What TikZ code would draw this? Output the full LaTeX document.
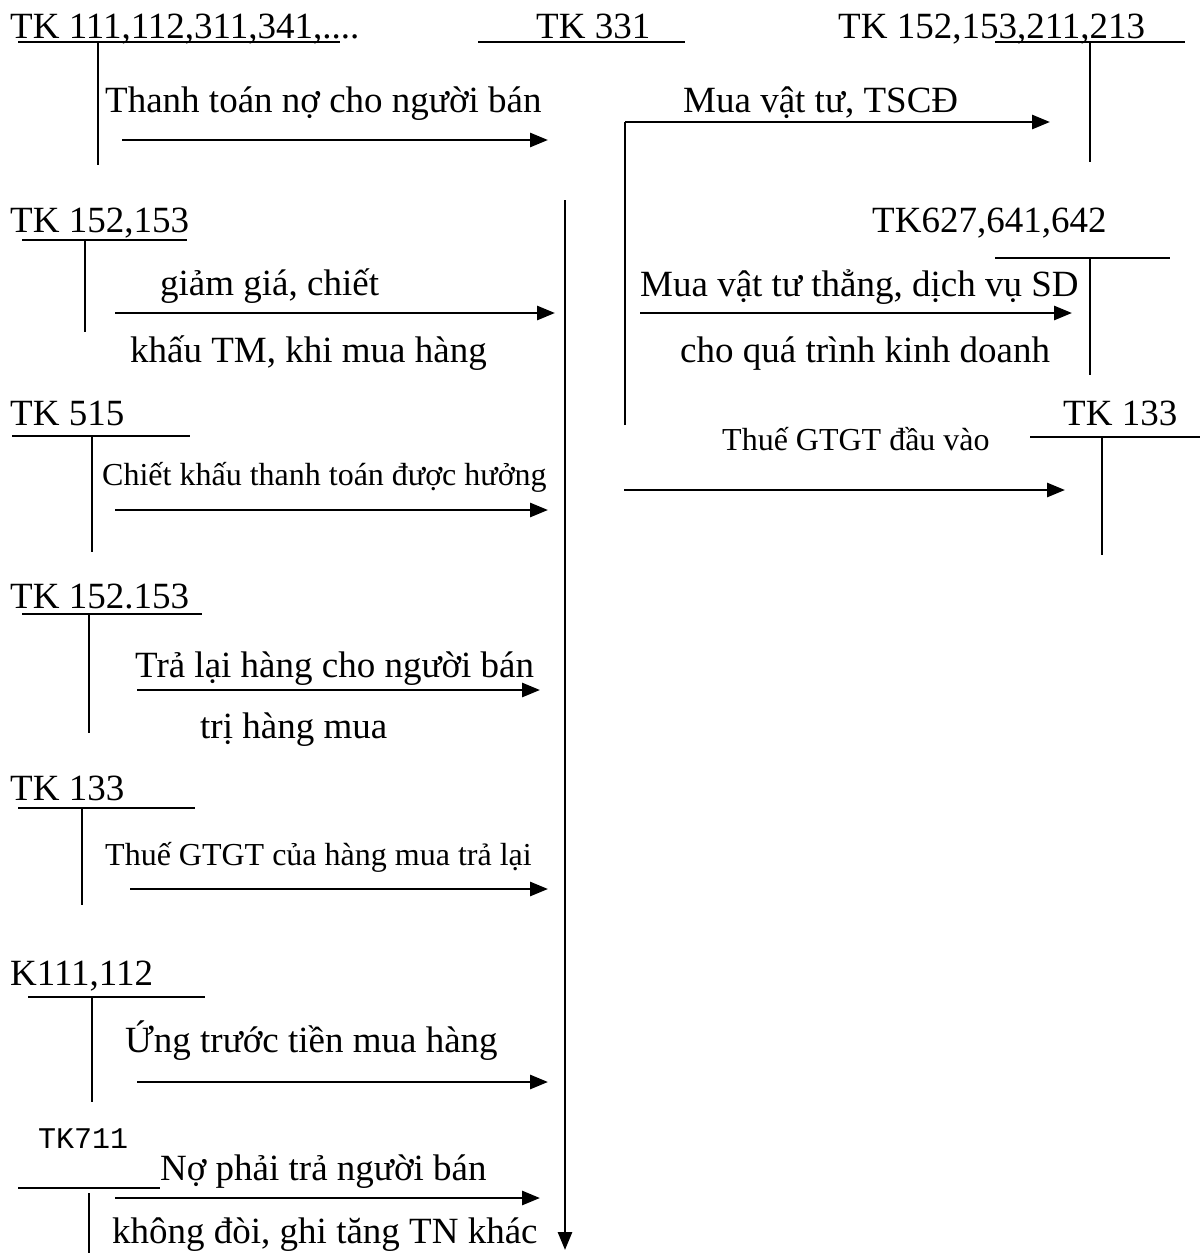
\documentclass[tikz,border=0pt]{standalone}
\usepackage{fontspec}
\setmainfont{Liberation Serif}
\setmonofont{Liberation Mono}
\usetikzlibrary{arrows.meta, positioning}

\begin{document}
\begin{tikzpicture}[x=1pt, y=-1pt]
\tikzstyle{big} = [inner sep=0pt, anchor=base west, font=\fontsize{37}{41}\selectfont]
\tikzstyle{small} = [inner sep=0pt, anchor=base west, font=\fontsize{32}{35}\selectfont]
\tikzstyle{mono} = [inner sep=0pt, anchor=base west, font=\ttfamily\fontsize{30}{33}\selectfont]
\tikzstyle{tline} = [line width=2pt]
\tikzstyle{arrow} = [line width=2.8pt, -{Triangle[length=18pt,width=14pt]}]

\useasboundingbox (0,0) rectangle (1200,1253);

% account headings
\node (acc111) [big] at (10,38) {TK 111,112,311,341,....};
\node (acc331) [big] at (536,38) {TK 331};
\node (acc152a) [big] at (838,38) {TK 152,153,211,213};
\node (acc152b) [big] at (10,232) {TK 152,153};
\node (acc627) [big] at (872,232) {TK627,641,642};
\node (acc515) [big] at (10,425) {TK 515};
\node (acc133a) [big] at (1063,425) {TK 133};
\node (acc152c) [big] at (10,608) {TK 152.153};
\node (acc133b) [big] at (10,800) {TK 133};
\node (acc111b) [big] at (10,985) {K111,112};
\node (acc711) [mono] at (38,1148) {TK711};

% labels
\node (lblPay) [big] at (105,112) {Thanh toán nợ cho người bán};
\node (lblBuy) [big] at (683,112) {Mua vật tư, TSCĐ};
\node (lblDisc) [big] at (160,295) {giảm giá, chiết};
\node (lblDisc2) [big] at (130,362) {khấu TM, khi mua hàng};
\node (lblDirect) [big] at (640,296) {Mua vật tư thẳng, dịch vụ SD};
\node (lblDirect2) [big] at (680,362) {cho quá trình kinh doanh};
\node (lblPayDisc) [small] at (102,485) {Chiết khấu thanh toán được hưởng};
\node (lblVatIn) [small] at (722,450) {Thuế GTGT đầu vào};
\node (lblReturn) [big] at (135,677) {Trả lại hàng cho người bán};
\node (lblReturn2) [big] at (200,738) {trị hàng mua};
\node (lblVatRet) [small] at (105,865) {Thuế GTGT của hàng mua trả lại};
\node (lblAdv) [big] at (125,1052) {Ứng trước tiền mua hàng};
\node (lblDebt) [big] at (160,1180) {Nợ phải trả người bán};
\node (lblDebt2) [big] at (112,1243) {không đòi, ghi tăng TN khác};

% T-account lines
\draw [tline] (18,42) -- (340,42) (98,42) -- (98,165);
\draw [tline] (478,42) -- (685,42);
\draw [tline] (995,42) -- (1185,42) (1090,42) -- (1090,162);
\draw [tline] (22,240) -- (187,240) (85,240) -- (85,332);
\draw [tline] (995,258) -- (1170,258) (1090,258) -- (1090,375);
\draw [tline] (12,436) -- (190,436) (92,436) -- (92,552);
\draw [tline] (1030,437) -- (1200,437) (1102,437) -- (1102,555);
\draw [tline] (22,614) -- (202,614) (89,614) -- (89,733);
\draw [tline] (18,808) -- (195,808) (82,808) -- (82,905);
\draw [tline] (28,997) -- (205,997) (92,997) -- (92,1102);
\draw [tline] (18,1188) -- (160,1188) (89,1193) -- (89,1253);
\draw [tline] (625,425) -- (625,122);

% arrow ends
\coordinate (payS) at (122,140);   \coordinate (payE) at (548,140);
\coordinate (buyS) at (625,122);   \coordinate (buyE) at (1050,122);
\coordinate (mainS) at (565,200);  \coordinate (mainE) at (565,1250);
\coordinate (discS) at (115,313);  \coordinate (discE) at (555,313);
\coordinate (dirS) at (640,313);   \coordinate (dirE) at (1072,313);
\coordinate (pdS) at (115,510);    \coordinate (pdE) at (548,510);
\coordinate (vatS) at (624,490);   \coordinate (vatE) at (1065,490);
\coordinate (retS) at (137,690);   \coordinate (retE) at (540,690);
\coordinate (vrS) at (130,889);    \coordinate (vrE) at (548,889);
\coordinate (advS) at (137,1082);  \coordinate (advE) at (548,1082);
\coordinate (debtS) at (115,1198); \coordinate (debtE) at (540,1198);

\draw [arrow] (payS) -- (payE);
\draw [arrow] (buyS) -- (buyE);
\draw [arrow] (mainS) -- (mainE);
\draw [arrow] (discS) -- (discE);
\draw [arrow] (dirS) -- (dirE);
\draw [arrow] (pdS) -- (pdE);
\draw [arrow] (vatS) -- (vatE);
\draw [arrow] (retS) -- (retE);
\draw [arrow] (vrS) -- (vrE);
\draw [arrow] (advS) -- (advE);
\draw [arrow] (debtS) -- (debtE);
\end{tikzpicture}
\end{document}
